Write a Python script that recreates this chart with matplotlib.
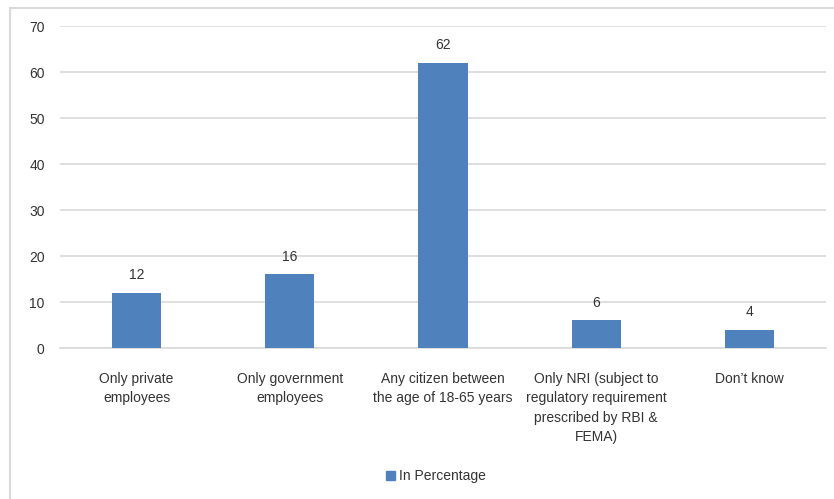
import matplotlib.pyplot as plt
from matplotlib.patches import Rectangle, Patch

categories = [
    "Only private\nemployees",
    "Only government\nemployees",
    "Any citizen between\nthe age of 18-65 years",
    "Only NRI (subject to\nregulatory requirement\nprescribed by RBI &\nFEMA)",
    "Don\u2019t know",
]
values = [12, 16, 62, 6, 4]
series_name = "In Percentage"
yticks = [0, 10, 20, 30, 40, 50, 60, 70]

bar_color = "#4F81BD"
grid_color = "#D9D9D9"
text_color = "#333333"

plt.rcParams["font.family"] = ["Liberation Sans", "DejaVu Sans"]

fig = plt.figure(figsize=(8.34, 4.99), dpi=100)
# outer chart frame (cut off at right and bottom like the source image)
fig.patches.append(Rectangle((10 / 834, -0.2), 1.2, 1.2 - 8 / 499,
                             transform=fig.transFigure, fill=False,
                             edgecolor=grid_color, linewidth=1.5))

ax = fig.add_axes([60 / 834, 1 - 348 / 499, 766 / 834, 322 / 499])
x = list(range(len(categories)))
bars = ax.bar(x, values, width=0.32, color=bar_color, zorder=3)
for b, v in zip(bars, values):
    ax.text(b.get_x() + b.get_width() / 2, v + 2.3, str(v), ha="center",
            va="bottom", fontsize=10, color=text_color)

ax.set_xlim(-0.5, len(categories) - 0.5)
ax.set_ylim(0, 70)
ax.set_yticks(yticks)
ax.set_xticks(x)
ax.set_xticklabels(categories, fontsize=10, color=text_color, linespacing=1.5)
ax.tick_params(axis="y", length=0, pad=11, labelsize=10, labelcolor=text_color)
ax.tick_params(axis="x", length=0, pad=17)
ax.grid(axis="y", color=grid_color, linewidth=1.2, zorder=0)
for s in ["top", "right", "left"]:
    ax.spines[s].set_visible(False)
ax.spines["bottom"].set_color(grid_color)
ax.spines["bottom"].set_linewidth(1.2)

fig.legend(handles=[Patch(color=bar_color, label=series_name)],
           loc="center", bbox_to_anchor=(436 / 834, 1 - 476 / 499),
           frameon=False, fontsize=10, handlelength=0.6, handleheight=0.6,
           handletextpad=0.3, labelcolor=text_color)

fig.savefig("out.png", dpi=100)
